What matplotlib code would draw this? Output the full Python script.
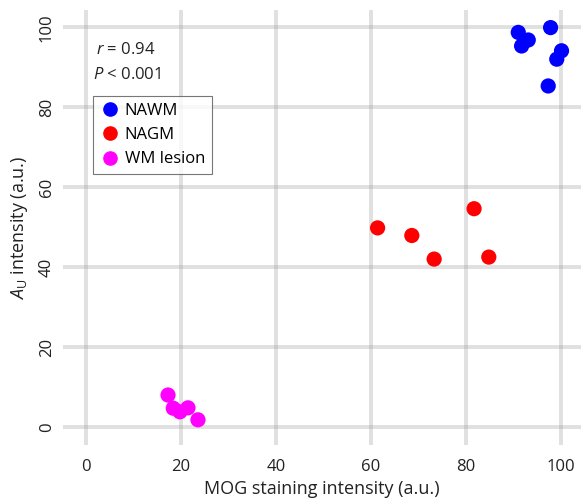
import matplotlib
matplotlib.use("Agg")
import matplotlib.pyplot as plt
from matplotlib.lines import Line2D

plt.rcParams['font.family'] = ['Open Sans', 'DejaVu Sans']
plt.rcParams['mathtext.fontset'] = 'custom'
plt.rcParams['mathtext.rm'] = 'Open Sans'
plt.rcParams['mathtext.it'] = 'Open Sans:italic'

# Data
nawm_x = [91.0, 93.1, 91.7, 97.8, 100.1, 99.1, 97.3]
nawm_y = [98.7, 96.8, 95.3, 99.9, 94.1, 92.0, 85.3]
nagm_x = [61.4, 68.6, 73.3, 81.7, 84.8]
nagm_y = [49.8, 47.9, 42.0, 54.6, 42.5]
wml_x = [17.3, 18.4, 19.8, 21.5, 23.6]
wml_y = [8.0, 4.7, 3.8, 4.8, 1.8]
series_labels = ["NAWM", "NAGM", "WM lesion"]
series_colors = ["#0000ff", "#ff0000", "#ff00ff"]
ticks = [0, 20, 40, 60, 80, 100]

fig = plt.figure(figsize=(5.81, 5.0), dpi=100)
ax = fig.add_axes([63/581, 55/500, 518/581, 435/500])

ax.set_xlim(-4.8, 104.2)
ax.set_ylim(-4.5, 104.3)
ax.set_xticks(ticks)
ax.set_yticks(ticks)
ax.grid(True, color='#999999', alpha=0.3, lw=2.8)
ax.set_axisbelow(True)
for s in ax.spines.values():
    s.set_visible(False)
ax.tick_params(length=0, labelsize=12, colors='#222222')
ax.tick_params(axis='x', pad=10)
ax.tick_params(axis='y', pad=6)
for lab in ax.get_yticklabels():
    lab.set_rotation(90)
    lab.set_va('center')

for xs, ys, lab, c in zip([nawm_x, nagm_x, wml_x], [nawm_y, nagm_y, wml_y], series_labels, series_colors):
    ax.scatter(xs, ys, s=120, color=c, edgecolors='none', label=lab, zorder=3)

ax.set_xlabel('MOG staining intensity (a.u.)', fontsize=13, color='#222222', labelpad=4)
ax.set_ylabel(r'$A_{\mathrm{U}}$ intensity (a.u.)', fontsize=13, color='#222222', labelpad=6)

ax.text(0.064, 0.908, r'$r$ = 0.94', transform=ax.transAxes, fontsize=12, va='center', ha='left', color='#222222')
ax.text(0.058, 0.851, r'$P$ < 0.001', transform=ax.transAxes, fontsize=12, va='center', ha='left', color='#222222')

handles = [Line2D([], [], marker='o', ls='none', color=c, markersize=9.5) for c in series_colors]
leg = ax.legend(handles, series_labels, loc='upper left', bbox_to_anchor=(0.058, 0.802),
                fontsize=12, frameon=True, fancybox=False, edgecolor='#555555',
                borderpad=0.4, handletextpad=0.3, labelspacing=0.5, handlelength=1.2,
                borderaxespad=0)
leg.get_frame().set_linewidth(0.8)

fig.savefig('out.png', dpi=100)
